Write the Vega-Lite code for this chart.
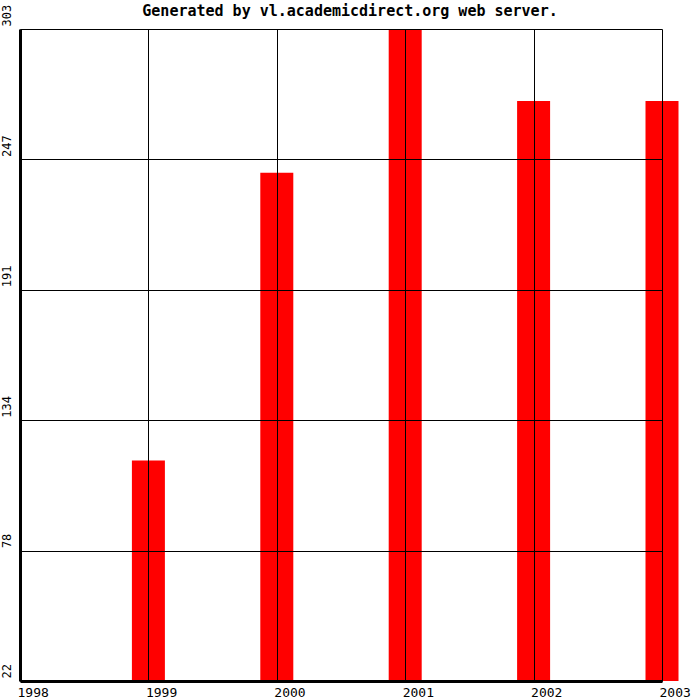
{
  "$schema": "https://vega.github.io/schema/vega-lite/v6.json",
  "autosize": "none",
  "padding": {"left": 20, "top": 29, "right": 38, "bottom": 19},
  "width": 642,
  "height": 652,
  "background": "white",
  "title": {
    "text": "Generated by vl.academicdirect.org web server.",
    "font": "DejaVu Sans Mono",
    "fontSize": 15,
    "fontWeight": "bold",
    "color": "black",
    "anchor": "middle",
    "dx": 9,
    "offset": -15
  },
  "data": {
    "values": [
      {"year": 1998, "value": 22},
      {"year": 1999, "value": 117},
      {"year": 2000, "value": 241},
      {"year": 2001, "value": 303},
      {"year": 2002, "value": 272},
      {"year": 2003, "value": 272}
    ]
  },
  "mark": {"type": "bar", "color": "#FF0000", "width": 33, "clip": false},
  "encoding": {
    "x": {
      "field": "year",
      "type": "quantitative",
      "scale": {"domain": [1998, 2003], "nice": false, "zero": false, "padding": 0},
      "axis": {
        "title": null,
        "values": [1998, 1999, 2000, 2001, 2002, 2003],
        "format": "d",
        "zindex": 1,
        "grid": true,
        "gridColor": "black",
        "gridWidth": 1,
        "gridOpacity": 1,
        "ticks": false,
        "domainColor": "black",
        "domainWidth": 3,
        "labelFont": "DejaVu Sans Mono",
        "labelFontSize": 13,
        "labelColor": "black",
        "labelAlign": "left",
        "labelOffset": -3,
        "labelPadding": 5,
        "labelFlush": false,
        "labelOverlap": false
      }
    },
    "y": {
      "field": "value",
      "type": "quantitative",
      "scale": {"domain": [22, 303], "nice": false, "zero": false, "padding": 0},
      "axis": {
        "title": null,
        "values": [22, 78.2, 134.4, 190.6, 246.8, 303],
        "format": "d",
        "zindex": 1,
        "grid": true,
        "gridColor": "black",
        "gridWidth": 1,
        "gridOpacity": 1,
        "ticks": false,
        "domainColor": "black",
        "domainWidth": 3,
        "labelFont": "DejaVu Sans Mono",
        "labelFontSize": 12,
        "labelColor": "black",
        "labelAngle": -90,
        "labelAlign": "left",
        "labelBaseline": "middle",
        "labelOffset": -3,
        "labelPadding": 14,
        "labelFlush": false,
        "labelOverlap": false
      }
    },
    "y2": {"datum": 22}
  },
  "config": {"view": {"stroke": null}}
}
